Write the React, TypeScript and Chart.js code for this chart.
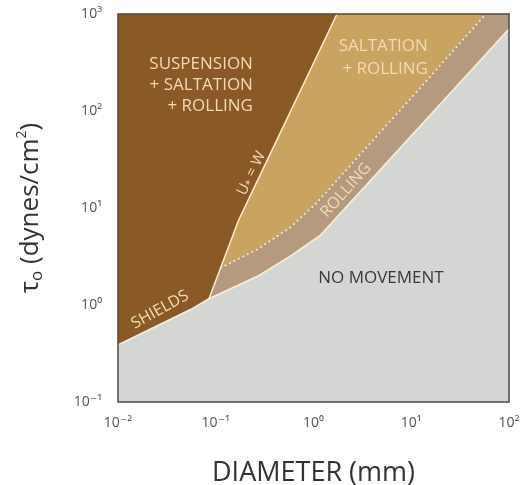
import React, { useEffect, useRef } from "react";
import { Chart, registerables } from "chart.js";

Chart.register(...registerables);

// ---- axis ticks ----
const xTickValues = [0.01, 0.1, 1, 10, 100];
const xTickLabels = ["10⁻²", "10⁻¹", "10⁰", "10¹", "10²"];
const yTickValues = [0.1, 1, 10, 100, 1000];
const yTickLabels = ["10⁻¹", "10⁰", "10¹", "10²", "10³"];

// ---- boundary curves (diameter mm, shear stress dynes/cm²) ----
const shieldsX = [0.01, 0.0546, 0.0853, 0.264, 0.575, 1.17, 100];
const shieldsY = [0.388, 0.89, 1.16, 1.96, 3.16, 5.2, 700];
const suspensionX = [0.0853, 0.11, 0.169, 0.24, 1.74];
const suspensionY = [1.16, 2.3, 7.25, 15.3, 1000];
const saltationX = [0.113, 0.264, 0.575, 1.04, 9.7, 58];
const saltationY = [2.43, 3.72, 6.28, 10.9, 132, 1000];

const X_MIN = 0.01;
const X_MAX = 100;
const Y_MIN = 0.1;
const Y_MAX = 1000;

// ---- colours ----
const BROWN = "#8a5925";
const TAN = "#c9a360";
const ROLL = "#b69a80";
const GRAY = "#d4d6d3";
const CREAM = "#fbecd0";
const LABEL_CREAM = "#f0dbb6";
const FONT = "'Open Sans', 'DejaVu Sans', sans-serif";

type Part = { t: string; size: number; dy?: number };
type RegionLabel = {
  parts: Part[];
  x: number;
  y: number;
  align: "left" | "right" | "center";
  angle: number;
  color: string;
};

const regionLabels: RegionLabel[] = [
  { parts: [{ t: "SUSPENSION", size: 17 }], x: 0.24, y: 304, align: "right", angle: 0, color: LABEL_CREAM },
  { parts: [{ t: "+ SALTATION", size: 17 }], x: 0.24, y: 185, align: "right", angle: 0, color: LABEL_CREAM },
  { parts: [{ t: "+ ROLLING", size: 17 }], x: 0.24, y: 112, align: "right", angle: 0, color: LABEL_CREAM },
  { parts: [{ t: "SALTATION", size: 17 }], x: 14.8, y: 461, align: "right", angle: 0, color: LABEL_CREAM },
  { parts: [{ t: "+ ROLLING", size: 17 }], x: 14.8, y: 270, align: "right", angle: 0, color: LABEL_CREAM },
  { parts: [{ t: "NO MOVEMENT", size: 17 }], x: 4.9, y: 1.87, align: "center", angle: 0, color: "#3a3a3a" },
  { parts: [{ t: "ROLLING", size: 16 }], x: 2.15, y: 15.2, align: "center", angle: -48, color: LABEL_CREAM },
  { parts: [{ t: "SHIELDS", size: 16 }], x: 0.0269, y: 0.893, align: "center", angle: -29, color: LABEL_CREAM },
  {
    parts: [
      { t: "U", size: 15 },
      { t: "*", size: 10, dy: 3 },
      { t: " = W", size: 15 },
    ],
    x: 0.232,
    y: 22.7,
    align: "center",
    angle: -64,
    color: LABEL_CREAM,
  },
];

const yTitleParts: Part[] = [
  { t: "τ", size: 26 },
  { t: "o", size: 17, dy: 6 },
  { t: " (dynes/cm", size: 26 },
  { t: "2", size: 14, dy: -9 },
  { t: ")", size: 26 },
];

function pts(xs: number[], ys: number[]) {
  return xs.map((x, i) => ({ x, y: ys[i] }));
}

function drawParts(ctx: CanvasRenderingContext2D, parts: Part[], align: string) {
  let total = 0;
  const widths = parts.map((p) => {
    ctx.font = `${p.size}px ${FONT}`;
    const w = ctx.measureText(p.t).width;
    total += w;
    return w;
  });
  let x = align === "right" ? -total : align === "center" ? -total / 2 : 0;
  ctx.textAlign = "left";
  parts.forEach((p, i) => {
    ctx.font = `${p.size}px ${FONT}`;
    ctx.fillText(p.t, x, p.dy || 0);
    x += widths[i];
  });
}

const decorPlugin = {
  id: "decor",
  afterDatasetsDraw(chart: any) {
    const { ctx, chartArea, scales } = chart;
    const xs = scales.x;
    const ys = scales.y;
    ctx.save();
    regionLabels.forEach((l) => {
      const px = xs.getPixelForValue(l.x);
      const py = ys.getPixelForValue(l.y);
      ctx.save();
      ctx.translate(px, py);
      ctx.rotate((l.angle * Math.PI) / 180);
      ctx.fillStyle = l.color;
      ctx.textBaseline = "middle";
      drawParts(ctx, l.parts, l.align);
      ctx.restore();
    });
    ctx.strokeStyle = "#4a4a4a";
    ctx.lineWidth = 1.5;
    ctx.strokeRect(
      chartArea.left,
      chartArea.top,
      chartArea.right - chartArea.left,
      chartArea.bottom - chartArea.top
    );
    ctx.save();
    ctx.translate(31, (chartArea.top + chartArea.bottom) / 2);
    ctx.rotate(-Math.PI / 2);
    ctx.fillStyle = "#333";
    ctx.textBaseline = "middle";
    drawParts(ctx, yTitleParts, "center");
    ctx.restore();
    ctx.restore();
  },
};

export default function App() {
  const ref = useRef<HTMLCanvasElement | null>(null);

  useEffect(() => {
    if (!ref.current) return;
    const shieldsPts = pts(shieldsX, shieldsY);
    const suspensionPts = pts(suspensionX, suspensionY);
    const saltationPts = pts(saltationX, saltationY);
    const base = {
      pointRadius: 0,
      tension: 0,
      showLine: true,
    };
    const chart = new Chart(ref.current, {
      type: "scatter",
      data: {
        datasets: [
          {
            ...base,
            data: [
              { x: X_MIN, y: Y_MAX },
              { x: X_MAX, y: Y_MAX },
            ],
            borderWidth: 0,
            backgroundColor: BROWN,
            fill: "start",
            order: 10,
          },
          {
            ...base,
            data: [...suspensionPts, { x: X_MAX, y: Y_MAX }],
            borderWidth: 0,
            backgroundColor: TAN,
            fill: "start",
            order: 9,
          },
          {
            ...base,
            data: [suspensionPts[0], ...saltationPts, { x: X_MAX, y: Y_MAX }],
            borderWidth: 0,
            backgroundColor: ROLL,
            fill: "start",
            order: 8,
          },
          {
            ...base,
            data: shieldsPts,
            borderWidth: 0,
            backgroundColor: GRAY,
            fill: "start",
            order: 7,
          },
          {
            ...base,
            data: saltationPts,
            borderColor: CREAM,
            borderWidth: 2,
            borderDash: [0.01, 5],
            borderCapStyle: "round",
            fill: false,
            order: 2,
          },
          {
            ...base,
            data: suspensionPts,
            borderColor: CREAM,
            borderWidth: 1.5,
            fill: false,
            order: 1,
          },
          {
            ...base,
            data: shieldsPts,
            borderColor: CREAM,
            borderWidth: 1.8,
            fill: false,
            order: 0,
          },
        ],
      } as any,
      options: {
        responsive: false,
        animation: false,
        layout: { padding: { top: 14, right: 18, left: 0, bottom: 0 } },
        plugins: {
          legend: { display: false },
          tooltip: { enabled: false },
        },
        scales: {
          x: {
            type: "logarithmic",
            min: X_MIN,
            max: X_MAX,
            grid: { display: false, drawTicks: false },
            border: { display: false },
            afterBuildTicks: (s: any) => {
              s.ticks = xTickValues.map((v) => ({ value: v }));
            },
            afterFit: (s: any) => {
              s.height = 83;
              s.paddingLeft = 0;
              s.paddingRight = 0;
            },
            ticks: {
              autoSkip: false,
              maxRotation: 0,
              padding: 13,
              color: "#555",
              font: { family: FONT, size: 14 },
              callback: (v: any) => xTickLabels[xTickValues.indexOf(Number(v))] ?? "",
            },
            title: {
              display: true,
              text: "DIAMETER (mm)",
              color: "#333",
              font: { family: FONT, size: 27, lineHeight: 1 },
              padding: { top: 0, bottom: -2 },
            },
          },
          y: {
            type: "logarithmic",
            min: Y_MIN,
            max: Y_MAX,
            grid: { display: false, drawTicks: false },
            border: { display: false },
            afterBuildTicks: (s: any) => {
              s.ticks = yTickValues.map((v) => ({ value: v }));
            },
            afterFit: (s: any) => {
              s.width = 118;
              s.paddingTop = 0;
              s.paddingBottom = 0;
            },
            ticks: {
              autoSkip: false,
              padding: 16,
              color: "#555",
              font: { family: FONT, size: 14 },
              callback: (v: any) => yTickLabels[yTickValues.indexOf(Number(v))] ?? "",
            },
          },
        },
      } as any,
      plugins: [decorPlugin],
    });
    return () => chart.destroy();
  }, []);

  return (
    <div style={{ position: "fixed", left: 0, top: 0, width: 527, height: 485, background: "#fff" }}>
      <canvas ref={ref} width={527} height={485} style={{ display: "block" }} />
    </div>
  );
}
